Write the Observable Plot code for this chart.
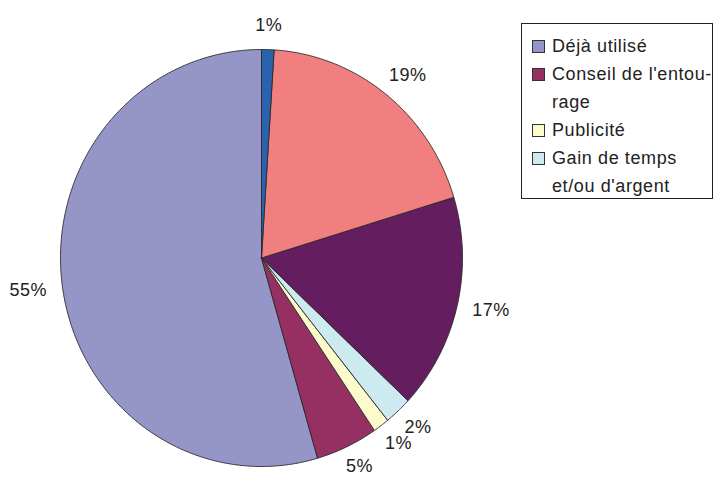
<!DOCTYPE html>
<html>
<head>
<meta charset="utf-8">
<script src="https://cdn.jsdelivr.net/npm/d3@7"></script>
<script src="https://cdn.jsdelivr.net/npm/@observablehq/plot@0.6"></script>
<style>
  html, body { margin: 0; padding: 0; background: #fff; }
  #wrap { position: relative; width: 715px; height: 478px; font-family: "Liberation Sans", Arial, sans-serif; }
  #legend { position: absolute; left: 521px; top: 23px; width: 192px; height: 176px; border: 1px solid #222; box-sizing: border-box; background: #fff; color: #222; font-size: 18px; letter-spacing: 0.6px; }
  .item { position: absolute; left: 10px; line-height: 28px; }
  .sw { position: absolute; left: 0; width: 11px; height: 11px; border: 1px solid #333; }
  .lbl { position: absolute; left: 20px; white-space: nowrap; }
  svg text { letter-spacing: 0.5px; }
</style>
</head>
<body>
<div id="wrap">
  <div id="chart"></div>
  <div id="legend"></div>
</div>
<script>
// Data (counter-clockwise from 12 o'clock, Excel series order)
const categories = ["Déjà utilisé", "Conseil de l'entourage", "Publicité", "Gain de temps et/ou d'argent", "Autre 1", "Autre 2", "Autre 3"];
const values = [54.5, 5.0, 1.3, 2.2, 16.7, 19.3, 1.0];
const labels = ["55%", "5%", "1%", "2%", "17%", "19%", "1%"];
const colors = ["#9595c8", "#963063", "#fbfbcc", "#cdeaf0", "#641e60", "#f27f7f", "#2a62ad"];
const legendCategories = ["Déjà utilisé", "Conseil de l'entou-\nrage", "Publicité", "Gain de temps\net/ou d'argent"];

const total = d3.sum(values);
const poly = [];
const labelRows = [];
let start = 360;
values.forEach((v, i) => {
  const span = v / total * 360;
  const a0 = start - span, a1 = start;
  const pts = [[0, 0]];
  const n = Math.max(4, Math.ceil(span / 0.5));
  for (let k = 0; k <= n; k++) {
    const a = (a0 + (a1 - a0) * k / n) * Math.PI / 180;
    pts.push([Math.sin(a), Math.cos(a)]);
  }
  pts.push([0, 0]);
  pts.forEach(([x, y], j) => poly.push({cat: categories[i], x, y, j}));
  const mid = (a0 + a1) / 2 * Math.PI / 180;
  const s = Math.sin(mid), c = Math.cos(mid);
  const w = labels[i].length * 11, h = c < 0 ? 11 : 16;
  labelRows.push({
    x: s * 1.09 + s * (w / 2) / 201,
    y: c * 1.08 + c * (h / 2) / 208.5,
    text: labels[i]
  });
  start = a0;
});

const chart = Plot.plot({
  width: 715,
  height: 478,
  x: {domain: [-1, 1], range: [60, 462], axis: null},
  y: {domain: [-1, 1], range: [466, 49], axis: null},
  color: {domain: categories, range: colors},
  style: {fontFamily: "'Liberation Sans', Arial, sans-serif", background: "white"},
  marks: [
    Plot.line(poly, {x: "x", y: "y", z: "cat", fill: "cat", stroke: "#2a2a2a", strokeWidth: 0.9, curve: "linear", strokeLinejoin: "round"}),
    Plot.text(labelRows, {x: "x", y: "y", text: "text", fontSize: 18, fill: "#222"})
  ]
});
document.getElementById("chart").appendChild(chart);

// Legend (only the first four categories appear in the original)
const legend = document.getElementById("legend");
const tops = [8, 36, 92, 120];
legendCategories.forEach((name, i) => {
  const item = document.createElement("div");
  item.className = "item";
  item.style.top = tops[i] + "px";
  const sw = document.createElement("div");
  sw.className = "sw";
  sw.style.top = "8px";
  sw.style.background = colors[i];
  const lbl = document.createElement("div");
  lbl.className = "lbl";
  lbl.innerHTML = name.split("\n").join("<br>");
  item.appendChild(sw);
  item.appendChild(lbl);
  legend.appendChild(item);
});
</script>
</body>
</html>
